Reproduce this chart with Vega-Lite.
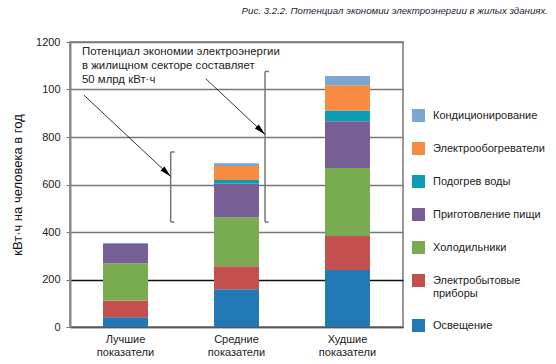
{
  "$schema": "https://vega.github.io/schema/vega-lite/v6.json",
  "width": 333,
  "height": 285,
  "autosize": {"type": "none"},
  "padding": {"left": 70, "top": 42, "right": 153, "bottom": 37},
  "background": "white",
  "config": {
    "font": "Liberation Sans",
    "view": {"stroke": "#777", "strokeWidth": 1.5}
  },
  "title": {
    "text": "Рис. 3.2.2. Потенциал экономии электроэнергии в жилых зданиях.",
    "anchor": "end",
    "frame": "group",
    "align": "right",
    "dx": 145,
    "offset": 20,
    "fontSize": 9.7,
    "fontStyle": "italic",
    "fontWeight": "normal",
    "color": "#1d1d33",
    "font": "Liberation Sans"
  },
  "datasets": {
    "bars": [
      {"cat": "Лучшие показатели", "comp": "Освещение", "ord": 1, "val": 41},
      {"cat": "Лучшие показатели", "comp": "Электробытовые приборы", "ord": 2, "val": 71},
      {"cat": "Лучшие показатели", "comp": "Холодильники", "ord": 3, "val": 156},
      {"cat": "Лучшие показатели", "comp": "Приготовление пищи", "ord": 4, "val": 82},
      {"cat": "Лучшие показатели", "comp": "Подогрев воды", "ord": 5, "val": 0},
      {"cat": "Лучшие показатели", "comp": "Электрообогреватели", "ord": 6, "val": 0},
      {"cat": "Лучшие показатели", "comp": "Кондиционирование", "ord": 7, "val": 4},
      {"cat": "Средние показатели", "comp": "Освещение", "ord": 1, "val": 159},
      {"cat": "Средние показатели", "comp": "Электробытовые приборы", "ord": 2, "val": 97},
      {"cat": "Средние показатели", "comp": "Холодильники", "ord": 3, "val": 206},
      {"cat": "Средние показатели", "comp": "Приготовление пищи", "ord": 4, "val": 141},
      {"cat": "Средние показатели", "comp": "Подогрев воды", "ord": 5, "val": 16},
      {"cat": "Средние показатели", "comp": "Электрообогреватели", "ord": 6, "val": 59},
      {"cat": "Средние показатели", "comp": "Кондиционирование", "ord": 7, "val": 11},
      {"cat": "Худшие показатели", "comp": "Освещение", "ord": 1, "val": 240},
      {"cat": "Худшие показатели", "comp": "Электробытовые приборы", "ord": 2, "val": 143},
      {"cat": "Худшие показатели", "comp": "Холодильники", "ord": 3, "val": 287},
      {"cat": "Худшие показатели", "comp": "Приготовление пищи", "ord": 4, "val": 196},
      {"cat": "Худшие показатели", "comp": "Подогрев воды", "ord": 5, "val": 46},
      {"cat": "Худшие показатели", "comp": "Электрообогреватели", "ord": 6, "val": 106},
      {"cat": "Худшие показатели", "comp": "Кондиционирование", "ord": 7, "val": 39}
    ],
    "brackets": [
      {"x1": 0.907, "x2": 0.907, "y1": 442, "y2": 737},
      {"x1": 0.907, "x2": 0.943, "y1": 737, "y2": 737},
      {"x1": 0.907, "x2": 0.94, "y1": 442, "y2": 442},
      {"x1": 1.757, "x2": 1.757, "y1": 442, "y2": 1076},
      {"x1": 1.757, "x2": 1.793, "y1": 1076, "y2": 1076},
      {"x1": 1.757, "x2": 1.79, "y1": 442, "y2": 442}
    ],
    "arrows": [
      {"x1": 0.126, "y1": 976, "x2": 0.907, "y2": 634},
      {"x1": 1.222, "y1": 1046, "x2": 1.757, "y2": 811}
    ],
    "note": [
      {"x": 0.108, "y": 1182, "text": "Потенциал экономии электроэнергии\nв жилищном секторе составляет\n50 млрд кВт·ч"}
    ]
  },
  "layer": [
    {
      "data": {"name": "bars"},
      "mark": {"type": "bar"},
      "encoding": {
        "x": {
          "field": "cat",
          "type": "nominal",
          "sort": ["Лучшие показатели", "Средние показатели", "Худшие показатели"],
          "scale": {"paddingInner": 0.595, "paddingOuter": 0.2975},
          "axis": {
            "title": null,
            "labelExpr": "split(datum.label, ' ')",
            "labelAngle": 0,
            "ticks": false,
            "labelPadding": 6,
            "labelFontSize": 11,
            "labelColor": "#222",
            "labelLineHeight": 13,
            "domainColor": "#555",
            "domainWidth": 1.5
          }
        },
        "y": {
          "field": "val",
          "type": "quantitative",
          "stack": "zero",
          "title": "кВт·ч на человека в год",
          "scale": {"domain": [0, 1200]},
          "axis": {
            "title": "кВт·ч на человека в год",
            "titleFontSize": 13,
            "titleFontWeight": "normal",
            "titleColor": "#111",
            "titlePadding": 11,
            "values": [0, 200, 400, 600, 800, 1000, 1200],
            "format": "d",
            "labelExpr": "datum.value == 1000 ? '100' : datum.label",
            "labelFontSize": 11,
            "labelColor": "#222",
            "tickSize": 4,
            "tickColor": "#777",
            "labelPadding": 6,
            "domainColor": "#888",
            "domainWidth": 2,
            "grid": true,
            "gridColor": {"condition": {"test": "datum.value == 200", "value": "#111"}, "value": "#777"},
            "gridWidth": 1.3,
            "gridOpacity": 1
          }
        },
        "color": {
          "field": "comp",
          "type": "nominal",
          "scale": {
            "domain": ["Кондиционирование", "Электрообогреватели", "Подогрев воды", "Приготовление пищи", "Холодильники", "Электробытовые приборы", "Освещение"],
            "range": ["#7ba6d1", "#f68b41", "#0c9cb3", "#775e95", "#79ab51", "#c44f4f", "#2278b5"]
          },
          "legend": {
            "title": null,
            "orient": "none",
            "legendX": 342,
            "legendY": 67,
            "padding": 0,
            "symbolType": "square",
            "symbolSize": 169,
            "symbolStrokeWidth": 0,
            "symbolOpacity": 1,
            "labelFontSize": 11,
            "labelColor": "#222",
            "labelOffset": 8,
            "labelLimit": 200,
            "rowPadding": 20,
            "labelExpr": "datum.label == 'Электробытовые приборы' ? ['Электробытовые', 'приборы'] : datum.label"
          }
        },
        "order": {"field": "ord", "type": "quantitative"}
      }
    },
    {
      "layer": [
        {
          "data": {"name": "brackets"},
          "mark": {"type": "rule", "color": "#777", "strokeWidth": 1.5},
          "encoding": {
            "x": {"field": "x1", "type": "quantitative", "scale": {"domain": [0, 3]}, "axis": null},
            "x2": {"field": "x2"},
            "y": {"field": "y1", "type": "quantitative", "title": "кВт·ч на человека в год"},
            "y2": {"field": "y2"}
          }
        },
        {
          "data": {"name": "arrows"},
          "mark": {"type": "rule", "color": "#000", "strokeWidth": 0.8},
          "encoding": {
            "x": {"field": "x1", "type": "quantitative", "scale": {"domain": [0, 3]}, "axis": null},
            "x2": {"field": "x2"},
            "y": {"field": "y1", "type": "quantitative", "title": "кВт·ч на человека в год"},
            "y2": {"field": "y2"}
          }
        },
        {
          "data": {"name": "arrows"},
          "mark": {"type": "point", "shape": "M0,0L-2,-0.5L-2,0.5Z", "filled": true, "color": "#000", "size": 130, "angle": 44, "opacity": 1},
          "encoding": {
            "x": {"field": "x2", "type": "quantitative", "scale": {"domain": [0, 3]}, "axis": null},
            "y": {"field": "y2", "type": "quantitative", "title": "кВт·ч на человека в год"}
          }
        },
        {
          "data": {"name": "note"},
          "mark": {"type": "text", "align": "left", "baseline": "top", "fontSize": 11.4, "lineHeight": 14, "color": "#222", "lineBreak": "\n"},
          "encoding": {
            "x": {"field": "x", "type": "quantitative", "scale": {"domain": [0, 3]}, "axis": null},
            "y": {"field": "y", "type": "quantitative", "title": "кВт·ч на человека в год"},
            "text": {"field": "text"}
          }
        }
      ]
    }
  ],
  "resolve": {"scale": {"x": "independent"}}
}
